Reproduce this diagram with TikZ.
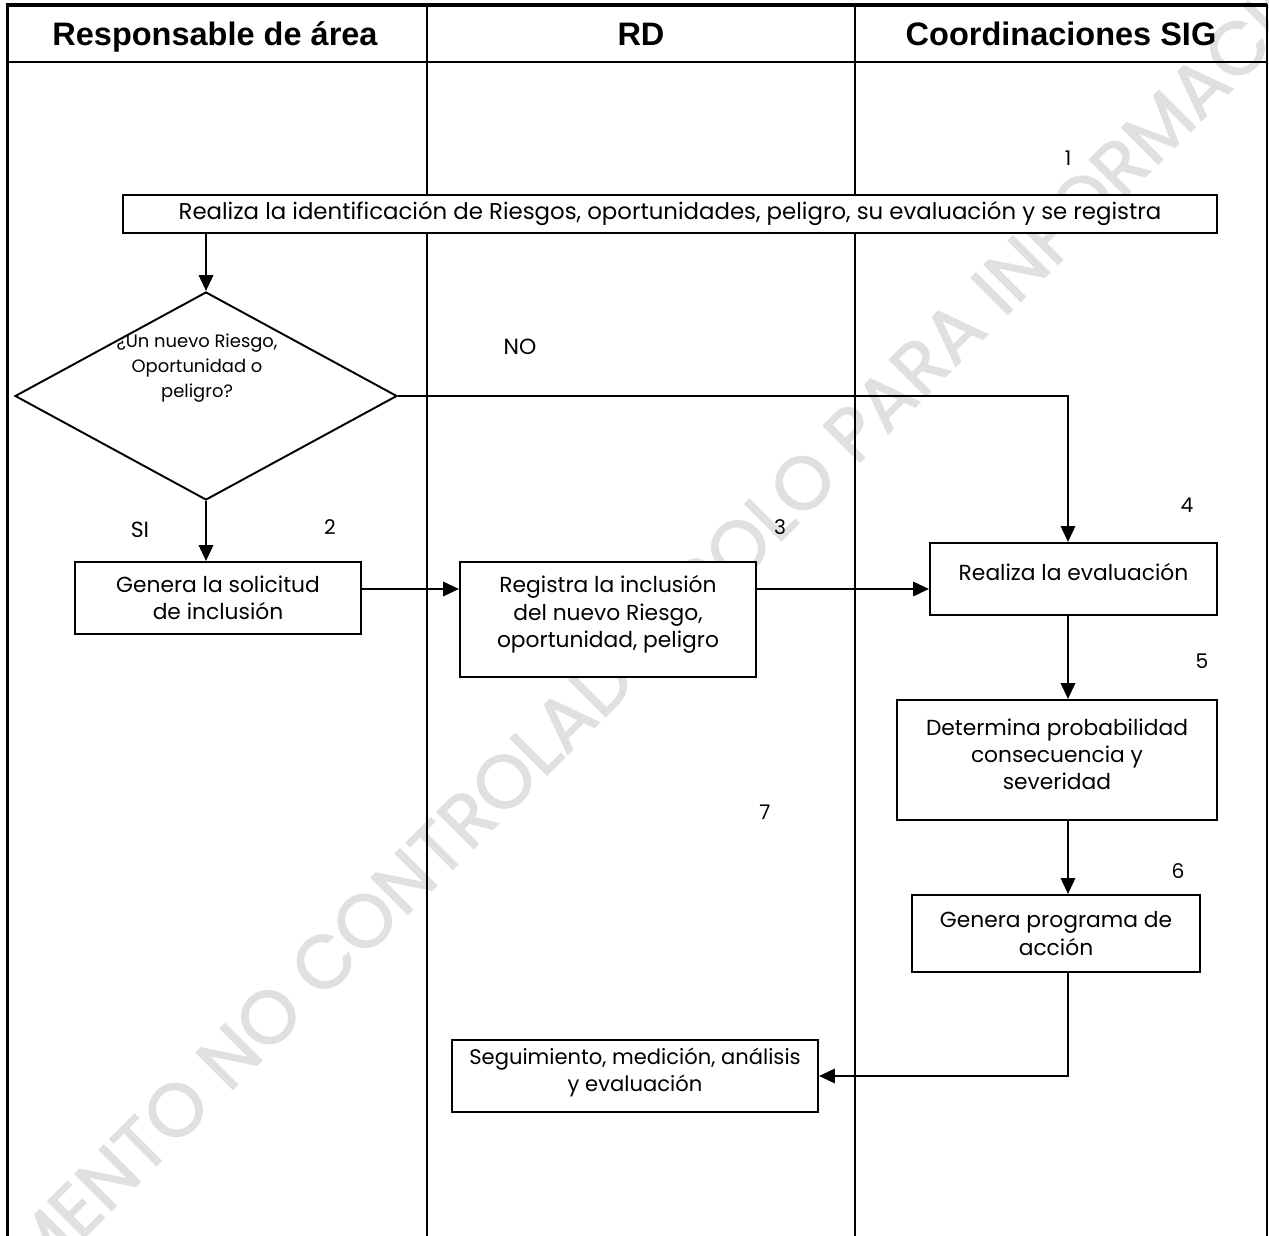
\documentclass[tikz,border=0pt]{standalone}
\usepackage{fontspec}
\setmainfont{Poppins}
\newfontfamily\headfont{Liberation Sans}
\newfontfamily\wmfont{Poppins}[FakeBold=1.6]
\usetikzlibrary{arrows.meta,shapes.geometric}

\tikzset{
	lane/.style={line width=1.1pt},
	head/.style={anchor=base, font=\headfont\bfseries\fontsize{18.5}{22}\selectfont},
	boxsize/.style 2 args={minimum width=#1*0.02cm, minimum height=#2*0.02cm},
	stepbox/.style={draw, fill=white, line width=1.1pt, align=center, inner sep=0pt, font=\fontsize{12.4}{15.5}\selectfont},
	decision/.style={draw, fill=white, diamond, line width=1.1pt, inner sep=0pt},
	qtext/.style={align=center, font=\fontsize{10.2}{14.2}\selectfont},
	stepnum/.style={font=\fontsize{11.5}{13}\selectfont},
	flow/.style={line width=1.6pt, -{Triangle[length=9pt,width=8pt]}},
	watermark/.style={text=black!12, font=\wmfont\fontsize{42.5}{48}\selectfont},
}

\begin{document}
\begin{tikzpicture}[x=0.02cm, y=-0.02cm]
	\useasboundingbox (0,0) rectangle (1269,1236);
	\node[watermark, rotate=45] (wm) at (603,678) {DOCUMENTO NO CONTROLADO, SOLO PARA INFORMACIÓN};

	\draw[line width=2.3pt] (6,5) -- (1267,5);
	\draw[line width=2pt] (7.5,4) -- (7.5,1236);
	\draw[line width=0.85pt] (1267,4) -- (1267,1236);
	\draw[lane] (7,62) -- (1267,62);
	\draw[lane] (427,5) -- (427,1236);
	\draw[lane] (855,5) -- (855,1236);

	\node[head] (h1) at (215,46) {Responsable de área};
	\node[head] (h2) at (641,46) {RD};
	\node[head] (h3) at (1061,46) {Coordinaciones SIG};

	\coordinate (sig) at (1068,0);
	\coordinate (row) at (0,589);

	\node[stepbox, boxsize={1094}{38}, font=\fontsize{13}{15.5}\selectfont] (b1) at (670,214) {Realiza la identificación de Riesgos, oportunidades, peligro, su evaluación y se registra};
	\node[decision, boxsize={382}{208}, label={[qtext, xshift=-5.1pt, yshift=15.9pt]center:{¿Un nuevo Riesgo,\\Oportunidad o\\peligro?}}] (dec) at (206,396) {};
	\node[stepbox, boxsize={286}{72}] (b2) at (218,598) {Genera la solicitud\\de inclusión};
	\node[stepbox, boxsize={296}{115}, text depth=9pt] (b3) at (608,619.5) {Registra la inclusión\\del nuevo Riesgo,\\oportunidad, peligro};
	\node[stepbox, boxsize={287}{72}, text depth=7.9pt] (b4) at (1073.5,579) {Realiza la evaluación};
	\node[stepbox, boxsize={320}{120}, text depth=6.8pt] (b5) at (1057,760) {Determina probabilidad\\consecuencia y\\severidad};
	\node[stepbox, boxsize={288}{77}] (b6) at (1056,933.5) {Genera programa de\\acción};
	\node[stepbox, boxsize={366}{72}, text depth=6.8pt, font=\fontsize{12}{15.5}\selectfont] (b7) at (635,1076) {Seguimiento, medición, análisis\\y evaluación};

	\node[stepnum] (n1) at (1068,158) {1};
	\node[stepnum] (n2) at (330,527) {2};
	\node[stepnum] (n3) at (780,527) {3};
	\node[stepnum] (n4) at (1187,505) {4};
	\node[stepnum] (n5) at (1202,661) {5};
	\node[stepnum] (n6) at (1178,871) {6};
	\node[stepnum] (n7) at (765,812) {7};
	\node[stepnum, font=\fontsize{12.5}{14}\selectfont] (no) at (520,347) {NO};
	\node[stepnum, font=\fontsize{12.5}{14}\selectfont] (si) at (140,530) {SI};

	\draw[flow] (b1.south -| dec.north) -- (dec.north);
	\draw[flow] (dec.east) -| (b4.north -| sig);
	\draw[flow] (dec.south) -- (b2.north -| dec.south);
	\draw[flow] (b2.east |- row) -- (b3.west |- row);
	\draw[flow] (b3.east |- row) -- (b4.west |- row);
	\draw[flow] (b4.south -| sig) -- (b5.north -| sig);
	\draw[flow] (b5.south -| sig) -- (b6.north -| sig);
	\draw[flow] (b6.south -| sig) |- (b7.east);
\end{tikzpicture}
\end{document}
